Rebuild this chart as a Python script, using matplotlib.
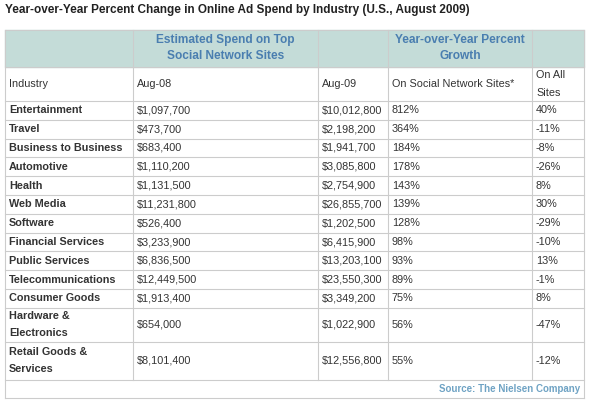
import matplotlib.pyplot as plt
from matplotlib.patches import Rectangle

plt.rcParams['font.family'] = ['Liberation Sans', 'DejaVu Sans']

industries = ['Entertainment', 'Travel', 'Business to Business', 'Automotive', 'Health',
              'Web Media', 'Software', 'Financial Services', 'Public Services',
              'Telecommunications', 'Consumer Goods', 'Hardware &\nElectronics',
              'Retail Goods &\nServices']
aug08 = ['$1,097,700', '$473,700', '$683,400', '$1,110,200', '$1,131,500', '$11,231,800',
         '$526,400', '$3,233,900', '$6,836,500', '$12,449,500', '$1,913,400', '$654,000',
         '$8,101,400']
aug09 = ['$10,012,800', '$2,198,200', '$1,941,700', '$3,085,800', '$2,754,900', '$26,855,700',
         '$1,202,500', '$6,415,900', '$13,203,100', '$23,550,300', '$3,349,200', '$1,022,900',
         '$12,556,800']
social = ['812%', '364%', '184%', '178%', '143%', '139%', '128%', '98%', '93%', '89%', '75%',
          '56%', '55%']
allsites = ['40%', '-11%', '-8%', '-26%', '8%', '30%', '-29%', '-10%', '13%', '-1%', '8%',
            '-47%', '-12%']

W, H = 590, 404
fig = plt.figure(figsize=(W / 100, H / 100), dpi=100)
ax = fig.add_axes([0, 0, 1, 1])
ax.set_xlim(0, W)
ax.set_ylim(H, 0)
ax.axis('off')

teal = '#c4dcd8'
blue = '#4a7eb0'
grid = '#cccccc'
txt = '#333333'
cols = [5, 133, 318, 388, 532, 584]

ax.text(5, 10, 'Year-over-Year Percent Change in Online Ad Spend by Industry (U.S., August 2009)',
        fontsize=8.5, fontweight='bold', color='#222222', va='center')

# header band
ax.add_patch(Rectangle((cols[0], 30), cols[-1] - cols[0], 37, color=teal, zorder=0))
ax.text((cols[1] + cols[2]) / 2, 48, 'Estimated Spend on Top\nSocial Network Sites',
        ha='center', va='center', color=blue, fontsize=8.6, fontweight='bold', linespacing=1.5)
ax.text((cols[3] + cols[4]) / 2, 48, 'Year-over-Year Percent\nGrowth',
        ha='center', va='center', color=blue, fontsize=8.6, fontweight='bold', linespacing=1.5)

# row boundaries
heights = [34] + [18.8] * 11 + [34, 38]
bounds = [67]
for h in heights:
    bounds.append(bounds[-1] + h)
bottom = bounds[-1]

ax.text(cols[-1] - 4, bottom + 9, 'Source: The Nielsen Company', ha='right', va='center',
        color='#6fa3c4', fontsize=7, fontweight='bold')

for y in [30] + bounds + [bottom + 18]:
    ax.plot([cols[0], cols[-1]], [y, y], color=grid, lw=0.8)
for x in cols:
    end = bottom + 18 if x in (cols[0], cols[-1]) else bottom
    ax.plot([x, x], [30, end], color=grid, lw=0.8)

fs = 7.8
ym = (bounds[0] + bounds[1]) / 2
ax.text(cols[0] + 4, ym, 'Industry', va='center', fontsize=fs, color=txt)
ax.text(cols[1] + 4, ym, 'Aug-08', va='center', fontsize=fs, color=txt)
ax.text(cols[2] + 4, ym, 'Aug-09', va='center', fontsize=fs, color=txt)
ax.text(cols[3] + 4, ym, 'On Social Network Sites*', va='center', fontsize=fs, color=txt)
ax.text(cols[4] + 4, ym, 'On All\nSites', va='center', fontsize=fs, color=txt, linespacing=1.9)

for i in range(len(industries)):
    yc = (bounds[i + 1] + bounds[i + 2]) / 2
    ax.text(cols[0] + 4, yc, industries[i], va='center', fontsize=fs, color=txt,
            fontweight='bold', linespacing=1.9)
    ax.text(cols[1] + 4, yc, aug08[i], va='center', fontsize=fs, color=txt)
    ax.text(cols[2] + 4, yc, aug09[i], va='center', fontsize=fs, color=txt)
    ax.text(cols[3] + 4, yc, social[i], va='center', fontsize=fs, color=txt)
    ax.text(cols[4] + 4, yc, allsites[i], va='center', fontsize=fs, color=txt)

fig.savefig('out.png', dpi=100)
